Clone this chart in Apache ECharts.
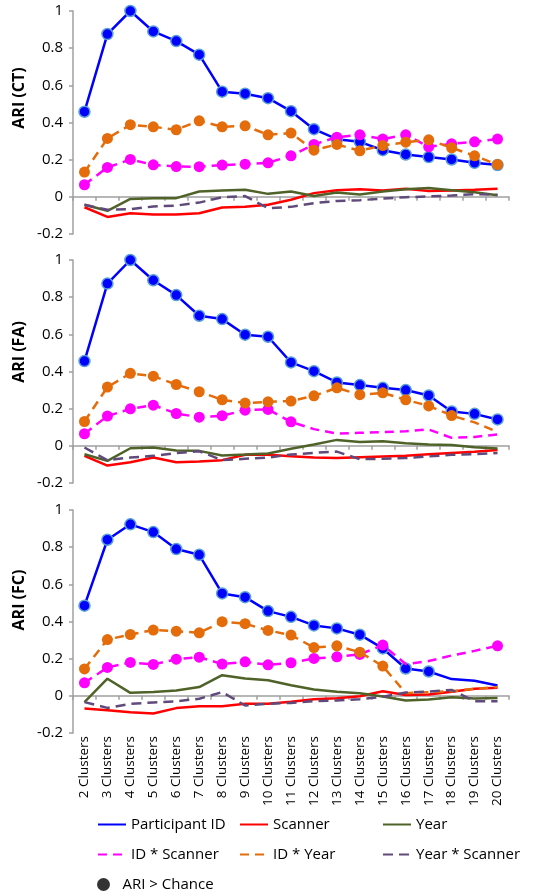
<!DOCTYPE html>
<html><head><meta charset="utf-8">
<script src="https://cdn.jsdelivr.net/npm/echarts@6/dist/echarts.min.js"></script>
<style>html,body{margin:0;padding:0;background:#fff}#c{width:536px;height:894px}</style>
</head><body><div id="c"></div>
<script>
const categories = ['2 Clusters','3 Clusters','4 Clusters','5 Clusters','6 Clusters','7 Clusters','8 Clusters','9 Clusters','10 Clusters','11 Clusters','12 Clusters','13 Clusters','14 Clusters','15 Clusters','16 Clusters','17 Clusters','18 Clusters','19 Clusters','20 Clusters'];
const seriesNames = ['Participant ID','Scanner','Year','ID * Scanner','ID * Year','Year * Scanner'];
const panelNames = ['ARI (CT)','ARI (FA)','ARI (FC)'];
const markerLegendName = 'ARI > Chance';

// CT
const ctParticipant = [0.458,0.876,1.0,0.89,0.838,0.765,0.566,0.555,0.531,0.461,0.364,0.31,0.296,0.251,0.228,0.214,0.201,0.183,0.171];
const ctScanner = [-0.056,-0.108,-0.088,-0.095,-0.095,-0.088,-0.057,-0.054,-0.043,-0.016,0.02,0.036,0.041,0.034,0.043,0.031,0.034,0.038,0.043];
const ctYear = [-0.043,-0.075,-0.011,-0.007,-0.007,0.029,0.034,0.038,0.016,0.029,0.005,0.023,0.013,0.029,0.041,0.047,0.036,0.025,0.009];
const ctIdScanner = [0.065,0.158,0.201,0.172,0.163,0.162,0.171,0.176,0.183,0.221,0.282,0.321,0.334,0.311,0.334,0.269,0.285,0.296,0.311];
const ctIdYear = [0.133,0.314,0.388,0.377,0.361,0.409,0.377,0.382,0.334,0.343,0.251,0.282,0.248,0.276,0.294,0.307,0.264,0.221,0.174];
const ctYearScanner = [-0.043,-0.07,-0.066,-0.052,-0.047,-0.031,-0.002,0.004,-0.061,-0.054,-0.034,-0.022,-0.018,-0.009,-0.002,0.002,0.007,0.014,0.011];
// ARI > chance flags (1 = above chance)
const ctParticipantSig = [1,1,1,1,1,1,1,1,1,1,1,1,1,1,1,1,1,1,1];
const ctIdScannerSig = [1,1,1,1,1,1,1,1,1,1,1,1,1,1,1,1,1,1,1];
const ctIdYearSig = [1,1,1,1,1,1,1,1,1,1,1,1,1,1,1,1,1,1,1];

// FA
const faParticipant = [0.456,0.873,1.0,0.891,0.811,0.70,0.682,0.598,0.587,0.449,0.402,0.341,0.327,0.312,0.30,0.271,0.185,0.172,0.142];
const faScanner = [-0.054,-0.106,-0.088,-0.063,-0.088,-0.084,-0.077,-0.048,-0.048,-0.056,-0.063,-0.065,-0.061,-0.057,-0.054,-0.045,-0.038,-0.032,-0.022];
const faYear = [-0.045,-0.081,-0.013,-0.009,-0.025,-0.027,-0.052,-0.047,-0.041,-0.016,0.007,0.032,0.02,0.025,0.014,0.007,0.005,-0.007,-0.014];
const faIdScanner = [0.065,0.16,0.199,0.219,0.174,0.154,0.162,0.192,0.196,0.129,0.09,0.066,0.07,0.074,0.079,0.088,0.043,0.048,0.061];
const faIdYear = [0.131,0.316,0.39,0.375,0.33,0.291,0.248,0.23,0.237,0.241,0.269,0.312,0.275,0.285,0.248,0.215,0.163,0.126,0.075];
const faYearScanner = [-0.009,-0.077,-0.063,-0.054,-0.039,-0.029,-0.077,-0.07,-0.063,-0.047,-0.038,-0.031,-0.072,-0.07,-0.066,-0.057,-0.048,-0.045,-0.038];
const faParticipantSig = [1,1,1,1,1,1,1,1,1,1,1,1,1,1,1,1,1,1,1];
const faIdScannerSig = [1,1,1,1,1,1,1,1,1,1,0,0,0,0,0,0,0,0,0];
const faIdYearSig = [1,1,1,1,1,1,1,1,1,1,1,1,1,1,1,1,1,0,0];

// FC
const fcParticipant = [0.485,0.84,0.923,0.881,0.79,0.759,0.551,0.531,0.456,0.425,0.379,0.363,0.329,0.255,0.147,0.131,0.09,0.081,0.056];
const fcScanner = [-0.068,-0.077,-0.088,-0.095,-0.066,-0.056,-0.056,-0.043,-0.043,-0.032,-0.018,-0.013,-0.002,0.025,0.005,0.007,0.022,0.038,0.043];
const fcYear = [-0.034,0.092,0.016,0.02,0.029,0.047,0.111,0.093,0.084,0.057,0.034,0.022,0.014,-0.004,-0.025,-0.02,-0.007,-0.014,-0.011];
const fcIdScanner = [0.07,0.153,0.18,0.169,0.197,0.208,0.171,0.183,0.167,0.178,0.201,0.21,0.223,0.273,0.171,0.187,0.217,0.242,0.269];
const fcIdYear = [0.145,0.303,0.33,0.354,0.348,0.339,0.399,0.388,0.352,0.327,0.26,0.269,0.235,0.16,0.014,0.02,0.025,0.038,0.048];
const fcYearScanner = [-0.034,-0.065,-0.043,-0.036,-0.029,-0.016,0.02,-0.052,-0.043,-0.038,-0.029,-0.025,-0.018,-0.005,0.018,0.023,0.032,-0.029,-0.029];
const fcParticipantSig = [1,1,1,1,1,1,1,1,1,1,1,1,1,1,1,1,0,0,0];
const fcIdScannerSig = [1,1,1,1,1,1,1,1,1,1,1,1,1,1,0,0,0,0,1];
const fcIdYearSig = [1,1,1,1,1,1,1,1,1,1,1,1,1,1,0,0,0,0,0];

const panels = [
  {vals:[ctParticipant,ctScanner,ctYear,ctIdScanner,ctIdYear,ctYearScanner], sig:{0:ctParticipantSig,3:ctIdScannerSig,4:ctIdYearSig}},
  {vals:[faParticipant,faScanner,faYear,faIdScanner,faIdYear,faYearScanner], sig:{0:faParticipantSig,3:faIdScannerSig,4:faIdYearSig}},
  {vals:[fcParticipant,fcScanner,fcYear,fcIdScanner,fcIdYear,fcYearScanner], sig:{0:fcParticipantSig,3:fcIdScannerSig,4:fcIdYearSig}}
];

const FONT = 'Open Sans';
const styles = [
  {color:'#0000ff', width:2.5, type:'solid', mColor:'#0000ff', mBorder:'#5aa0d8'},
  {color:'#ff0000', width:2.5, type:'solid'},
  {color:'#4f6228', width:2.5, type:'solid'},
  {color:'#ff00ff', width:2.5, type:[9,6], mColor:'#ff00ff', mBorder:'#ff00ff'},
  {color:'#e46c0a', width:2.5, type:[9,6], mColor:'#e46c0a', mBorder:'#e46c0a'},
  {color:'#604a7b', width:2.5, type:[10,6]}
];
const drawOrder = [0,1,2,3,4,5];

const gridTops = [11, 260, 510];
const gridHeight = 223;
const nameCenters = [98, 352, 600];
const grids = gridTops.map(t => ({left:73, top:t, width:436, height:gridHeight}));

const xAxes = [];
const yAxes = [];
gridTops.forEach((t, g) => {
  xAxes.push({
    type:'category', gridIndex:g, data:categories, position:'bottom',
    axisLine:{show:true, onZero:true, lineStyle:{color:'#a0a0a0', width:1.5}},
    axisTick:{show:true, interval:0, length:4, lineStyle:{color:'#a0a0a0', width:1.5}},
    axisLabel:{show:false}, splitLine:{show:false}
  });
  yAxes.push({
    type:'value', gridIndex:g, min:-0.2, max:1, interval:0.2,
    axisLine:{show:true, lineStyle:{color:'#a0a0a0', width:1.5}},
    axisTick:{show:true, length:4, lineStyle:{color:'#a0a0a0', width:1.5}},
    axisLabel:{fontFamily:FONT, fontSize:15, color:'#000', margin:10},
    splitLine:{show:false}
  });
});
// label-only category axis at bottom of last panel
xAxes.push({
  type:'category', gridIndex:2, data:categories, position:'bottom',
  axisLine:{show:false, onZero:false}, axisTick:{show:false},
  axisLabel:{show:true, interval:0, rotate:90, margin:3, fontFamily:FONT, fontSize:13.5, color:'#000'},
  splitLine:{show:false}
});

// rotated y-axis titles
const graphics = panelNames.map((n, g) => ({
  type:'text', x:19, y:nameCenters[g], rotation:Math.PI/2,
  style:{text:n, fontFamily:FONT, fontWeight:'bold', fontSize:16, fill:'#000', align:'center', verticalAlign:'middle'}
}));

const series = [];
panels.forEach((p, g) => {
  drawOrder.forEach(i => {
    const st = styles[i];
    const sig = p.sig[i];
    const data = p.vals[i].map((v, k) => sig && sig[k] ? {value:v} : {value:v, symbol:'none'});
    series.push({
      name: seriesNames[i], type:'line', xAxisIndex:g, yAxisIndex:g,
      data: data,
      symbol: sig ? 'circle' : 'none', symbolSize: 11, showSymbol: !!sig, showAllSymbol:true,
      lineStyle:{color:st.color, width:st.width, type:st.type},
      itemStyle:{color: st.mColor || st.color, borderColor: st.mBorder || st.color, borderWidth: i === 0 ? 1.5 : 0},
      emphasis:{disabled:true}, z: 2 + i
    });
  });
});
series.push({name: markerLegendName, type:'scatter', xAxisIndex:0, yAxisIndex:0, data:[], itemStyle:{color:'#000'}, symbol:'circle'});

const legendBase = {orient:'vertical', itemWidth:28, itemHeight:14, itemGap:15, selectedMode:false,
  itemStyle:{opacity:0}, textStyle:{fontFamily:FONT, fontSize:15, color:'#000'}};
const legends = [
  Object.assign({}, legendBase, {left:92, top:812, data:['Participant ID','ID * Scanner']}),
  Object.assign({}, legendBase, {left:234, top:812, data:['Scanner','ID * Year']}),
  Object.assign({}, legendBase, {left:377, top:812, data:['Year','Year * Scanner']}),
  {orient:'vertical', left:92, top:872, itemWidth:28, itemHeight:13, selectedMode:false,
   textStyle:{fontFamily:FONT, fontSize:15, color:'#000'}, data:[markerLegendName]}
];

const chart = echarts.init(document.getElementById('c'), null, {renderer:'canvas'});
chart.setOption({
  animation:false, backgroundColor:'#fff',
  grid: grids, xAxis: xAxes, yAxis: yAxes, series: series, legend: legends, graphic: graphics
});
</script></body></html>
